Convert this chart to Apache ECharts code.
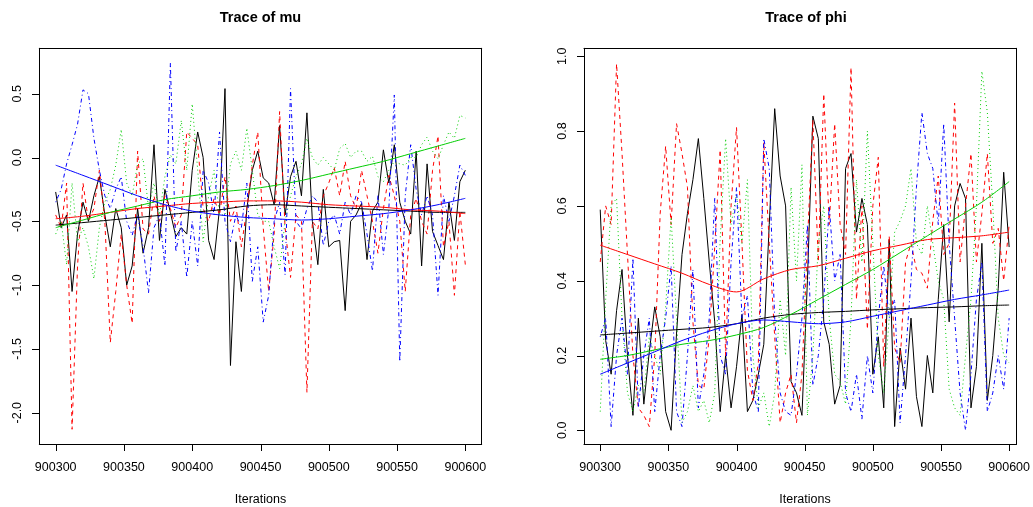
<!DOCTYPE html>
<html><head><meta charset="utf-8">
<script src="https://cdn.jsdelivr.net/npm/echarts@6/dist/echarts.min.js"></script>
<style>html,body{margin:0;padding:0;background:#fff}#c{width:1033px;height:507px}</style>
</head><body><div id="c"></div>
<script>
// ---------- data ----------
const iterations = []; for (let i = 0; i < 76; i++) iterations.push(900300 + 4 * i);
const smoothIters = []; for (let k = 0; k < 16; k++) smoothIters.push(900300 + 20 * k);
const xTicks = [900300, 900350, 900400, 900450, 900500, 900550, 900600];
const muTicks = [-2.0, -1.5, -1.0, -0.5, 0.0, 0.5];
const phiTicks = [0.0, 0.2, 0.4, 0.6, 0.8, 1.0];

const muBlack = [-0.27,-0.55,-0.45,-1.05,-0.6,-0.35,-0.5,-0.3,-0.15,-0.45,-0.7,-0.4,-0.55,-1.0,-0.85,-0.4,-0.75,-0.55,0.1,-0.65,-0.25,-0.43,-0.62,-0.55,-0.6,-0.1,0.2,0.0,-0.65,-0.8,-0.4,0.54,-1.63,-0.66,-1.05,-0.4,-0.1,0.05,-0.16,-0.2,-0.37,0.25,-0.45,-0.15,-0.03,-0.3,0.35,-0.5,-0.84,-0.25,-0.7,-0.66,-0.65,-1.2,-0.5,-0.45,-0.36,-0.8,-0.42,-0.35,0.06,-0.2,0.1,-0.35,-0.5,-0.6,0.05,-0.85,-0.05,-0.58,-0.69,-0.8,-0.35,-0.65,-0.19,-0.1];
const muRed = [-0.45,-0.55,-0.2,-2.13,-0.85,-0.2,-0.5,-0.4,-0.1,-0.5,-1.45,-1.05,-0.6,-1.0,-1.3,0.05,-0.56,-0.6,-0.3,-0.5,-0.3,-0.4,-0.55,-0.45,0.2,0.15,0.1,-0.4,-0.5,-0.32,-0.45,-0.15,-0.5,-0.38,-0.7,-0.4,-0.06,0.2,-0.55,-1.05,-0.6,0.36,-0.55,-0.94,-0.45,-0.5,-1.84,-0.5,-0.56,-0.3,-0.2,-0.08,-0.3,-0.03,-0.3,-0.4,-0.1,-0.3,-0.5,-0.75,-0.4,-0.14,-0.3,-0.5,-1.05,-0.45,-0.32,-0.5,-0.6,-0.1,0.17,-0.7,-0.5,-1.08,-0.42,-0.84];
const muGreen = [-0.6,-0.5,-0.84,-0.2,-0.66,-0.55,-0.7,-0.95,-0.55,-0.35,-0.25,-0.06,0.22,-0.2,-0.3,-0.05,-0.01,-0.4,-0.2,-0.45,-0.15,0.02,-0.05,0.29,-0.1,0.42,-0.1,-0.66,-0.3,-0.1,-0.45,-0.45,-0.05,0.05,-0.1,0.23,-0.1,-0.45,-0.5,-0.5,-0.7,-0.87,-0.5,-0.3,-0.15,-0.05,0.15,0.0,-0.06,0.0,-0.05,-0.1,0.07,0.11,0.0,0.05,0.05,-0.03,0.01,-0.15,-0.19,-0.1,-0.03,-0.05,-0.06,0.0,0.0,0.1,0.16,0.05,-0.01,0.1,0.2,0.15,0.33,0.31];
const muBlue = [-0.35,-0.25,-0.05,0.1,0.26,0.53,0.5,0.15,-0.1,-0.3,-0.4,-0.25,-0.15,-0.5,-0.61,-0.45,-0.7,-1.06,-0.55,-0.45,-0.85,0.74,-0.74,-0.5,-0.94,-0.5,-0.85,-0.1,-0.2,-0.45,0.2,-0.5,-0.66,-0.45,-0.55,-0.2,-0.97,-0.7,-1.29,-1.08,-0.5,-0.35,-0.92,0.54,-0.5,-0.56,-0.4,-0.3,-0.35,-0.69,-0.5,-0.45,-0.6,-0.35,-0.45,-0.3,-0.35,-0.6,-0.89,-0.3,-0.76,-0.4,0.49,-1.6,-0.3,0.1,-0.25,-0.45,-0.3,-0.45,-1.08,-0.3,-0.5,-0.3,-0.06,-0.14];

const muSmoothBlack = [-0.53,-0.51,-0.49,-0.47,-0.45,-0.43,-0.41,-0.38,-0.37,-0.38,-0.39,-0.40,-0.41,-0.42,-0.43,-0.43];
const muSmoothRed = [-0.48,-0.46,-0.43,-0.40,-0.38,-0.36,-0.35,-0.34,-0.34,-0.35,-0.37,-0.38,-0.39,-0.41,-0.42,-0.44];
const muSmoothGreen = [-0.55,-0.49,-0.43,-0.38,-0.33,-0.30,-0.27,-0.25,-0.22,-0.18,-0.13,-0.08,-0.03,0.03,0.09,0.15];
const muSmoothBlue = [-0.06,-0.14,-0.22,-0.30,-0.37,-0.42,-0.45,-0.47,-0.48,-0.49,-0.48,-0.46,-0.44,-0.41,-0.37,-0.32];

const phiBlack = [0.59,0.24,0.15,0.32,0.43,0.2,0.04,0.3,0.07,0.21,0.33,0.25,0.05,0.0,0.26,0.47,0.58,0.67,0.78,0.62,0.45,0.29,0.05,0.2,0.06,0.17,0.31,0.05,0.08,0.15,0.23,0.55,0.86,0.68,0.6,0.13,0.1,0.04,0.4,0.84,0.78,0.29,0.23,0.07,0.12,0.7,0.74,0.53,0.62,0.55,0.15,0.25,0.06,0.51,0.01,0.22,0.11,0.3,0.09,0.01,0.2,0.1,0.35,0.55,0.29,0.6,0.66,0.62,0.06,0.17,0.5,0.08,0.2,0.38,0.69,0.49];
const phiRed = [0.45,0.6,0.55,0.98,0.74,0.47,0.2,0.06,0.04,0.01,0.2,0.58,0.76,0.55,0.82,0.74,0.65,0.29,0.12,0.11,0.25,0.49,0.75,0.2,0.6,0.81,0.5,0.16,0.08,0.18,0.77,0.5,0.25,0.02,0.1,0.15,0.02,0.15,0.5,0.83,0.45,0.9,0.55,0.82,0.55,0.47,0.97,0.35,0.6,0.27,0.6,0.73,0.17,0.52,0.22,0.18,0.45,0.5,0.43,0.42,0.38,0.56,0.68,0.47,0.5,0.875,0.45,0.6,0.74,0.45,0.58,0.74,0.5,0.54,0.4,0.55];
const phiGreen = [0.05,0.35,0.6,0.62,0.3,0.1,0.05,0.12,0.1,0.25,0.2,0.15,0.33,0.57,0.3,0.02,0.05,0.12,0.05,0.08,0.02,0.1,0.51,0.78,0.55,0.63,0.5,0.67,0.2,0.06,0.1,0.01,0.1,0.35,0.2,0.65,0.4,0.71,0.04,0.2,0.5,0.6,0.3,0.15,0.13,0.07,0.3,0.67,0.45,0.8,0.5,0.2,0.1,0.3,0.53,0.56,0.6,0.7,0.5,0.47,0.6,0.5,0.4,0.35,0.11,0.06,0.04,0.2,0.35,0.6,0.96,0.85,0.6,0.3,0.2,0.18];
const phiBlue = [0.25,0.3,0.01,0.2,0.3,0.15,0.46,0.06,0.2,0.3,0.05,0.2,0.3,0.44,0.05,0.01,0.2,0.43,0.06,0.15,0.3,0.62,0.2,0.15,0.45,0.65,0.3,0.36,0.1,0.05,0.78,0.7,0.3,0.1,0.05,0.04,0.15,0.3,0.55,0.12,0.2,0.35,0.6,0.4,0.47,0.1,0.05,0.15,0.03,0.2,0.1,0.3,0.44,0.3,0.35,0.02,0.2,0.4,0.65,0.85,0.74,0.7,0.55,0.82,0.5,0.3,0.1,0.0,0.15,0.35,0.45,0.05,0.1,0.2,0.11,0.3];

const phiSmoothBlack = [0.255,0.26,0.265,0.27,0.275,0.285,0.30,0.31,0.315,0.318,0.322,0.325,0.328,0.33,0.333,0.335];
const phiSmoothRed = [0.495,0.47,0.445,0.42,0.39,0.37,0.405,0.43,0.44,0.46,0.48,0.495,0.51,0.515,0.52,0.53];
const phiSmoothGreen = [0.19,0.20,0.215,0.23,0.24,0.255,0.275,0.31,0.35,0.39,0.43,0.475,0.52,0.565,0.61,0.665];
const phiSmoothBlue = [0.15,0.18,0.21,0.24,0.265,0.285,0.295,0.29,0.285,0.29,0.305,0.32,0.335,0.35,0.362,0.375];

// ---------- chart ----------
const FONT = '"Liberation Sans", Arial, Helvetica, sans-serif';
const chainStyles = [
  { color: '#000000', type: 'solid' },
  { color: '#FF0000', type: [4, 4] },
  { color: '#00CD00', type: [1, 3] },
  { color: '#0000FF', type: [1, 3, 4, 3] }
];
const panels = [
  { xMin: 900288, xMax: 900612, yMin: -2.2476, yMax: 0.8558, yTicks: muTicks },
  { xMin: 900288.1, xMax: 900605.4, yMin: -0.0374, yMax: 1.0214, yTicks: phiTicks }
];
function pairs(xs, ys) { return ys.map((y, i) => [xs[i], y]); }

function xAxisFor(grid, min, max) {
  return {
    gridIndex: grid, type: 'value', min: min, max: max,
    axisLine: { show: true, onZero: false, lineStyle: { color: '#000' } }, splitLine: { show: false },
    axisTick: { show: false },
    axisLabel: { customValues: xTicks, formatter: v => String(Math.round(v)), margin: 17, fontSize: 12.5, color: '#000', fontFamily: FONT }
  };
}
function yAxisFor(grid, min, max, ticks) {
  return {
    gridIndex: grid, type: 'value', min: min, max: max,
    axisLine: { show: true, onZero: false, lineStyle: { color: '#000' } }, splitLine: { show: false },
    axisTick: { show: false },
    axisLabel: { customValues: ticks, rotate: 90, formatter: v => v.toFixed(1), margin: 15, fontSize: 12.5, color: '#000', fontFamily: FONT }
  };
}
function frameAxis(grid, min, max, pos) {
  return {
    gridIndex: grid, type: 'value', min: min, max: max, position: pos,
    axisLine: { show: true, onZero: false, lineStyle: { color: '#000' } },
    axisTick: { show: false }, axisLabel: { show: false }, splitLine: { show: false }
  };
}

const series = [];
function addPanel(axisIdx, chains, smooths) {
  chains.forEach((vals, c) => {
    series.push({
      type: 'line', xAxisIndex: axisIdx, yAxisIndex: axisIdx, data: pairs(iterations, vals),
      showSymbol: false, symbol: 'none', animation: false, clip: true,
      lineStyle: { color: chainStyles[c].color, type: chainStyles[c].type, width: 1 }
    });
  });
  smooths.forEach((vals, c) => {
    series.push({
      type: 'line', xAxisIndex: axisIdx, yAxisIndex: axisIdx, data: pairs(smoothIters, vals),
      showSymbol: false, symbol: 'none', animation: false, smooth: 0.3, clip: true,
      lineStyle: { color: chainStyles[c].color, type: 'solid', width: 1 }
    });
  });
}
addPanel(0, [muBlack, muRed, muGreen, muBlue], [muSmoothBlack, muSmoothRed, muSmoothGreen, muSmoothBlue]);
addPanel(1, [phiBlack, phiRed, phiGreen, phiBlue], [phiSmoothBlack, phiSmoothRed, phiSmoothGreen, phiSmoothBlue]);

function label(text, x, y, size, weight) {
  return { type: 'text', x: x, y: y, silent: true,
    style: { text: text, fill: '#000', font: weight + ' ' + size + 'px ' + FONT,
      align: 'center', verticalAlign: 'middle', textAlign: 'center', textVerticalAlign: 'middle' } };
}
const textGraphics = [
  label('Trace of mu', 260.5, 18, 14.5, 'bold'),
  label('Trace of phi', 806, 18, 14.5, 'bold'),
  label('Iterations', 260.5, 500, 12.5, 'normal'),
  label('Iterations', 805, 500, 12.5, 'normal')
];

const chart = echarts.init(document.getElementById('c'), null, { renderer: 'canvas' });
chart.setOption({
  animation: false,
  grid: [
    { left: 39.3, top: 48.3, width: 442.4, height: 396 },
    { left: 584, top: 48.3, width: 433.7, height: 396 }
  ],
  xAxis: [
    xAxisFor(0, panels[0].xMin, panels[0].xMax), xAxisFor(1, panels[1].xMin, panels[1].xMax),
    frameAxis(0, panels[0].xMin, panels[0].xMax, 'top'), frameAxis(1, panels[1].xMin, panels[1].xMax, 'top')
  ],
  yAxis: [
    yAxisFor(0, panels[0].yMin, panels[0].yMax, muTicks), yAxisFor(1, panels[1].yMin, panels[1].yMax, phiTicks),
    frameAxis(0, panels[0].yMin, panels[0].yMax, 'right'), frameAxis(1, panels[1].yMin, panels[1].yMax, 'right')
  ],
  series: series,
  graphic: textGraphics
});

// outward tick marks, positioned through the chart's own axis scales
const tickGraphics = [];
panels.forEach((p, idx) => {
  const finder = { xAxisIndex: idx, yAxisIndex: idx };
  xTicks.forEach(v => {
    const pt = chart.convertToPixel(finder, [v, p.yMin]);
    if (!pt) return;
    const x = Math.round(pt[0]) + 0.5, y = Math.round(pt[1]);
    tickGraphics.push({ type: 'line', silent: true, z: 100,
      shape: { x1: x, y1: y, x2: x, y2: y + 7 }, style: { stroke: '#000', lineWidth: 1 } });
  });
  p.yTicks.forEach(v => {
    const pt = chart.convertToPixel(finder, [p.xMin, v]);
    if (!pt) return;
    const x = Math.round(pt[0]), y = Math.round(pt[1]) + 0.5;
    tickGraphics.push({ type: 'line', silent: true, z: 100,
      shape: { x1: x - 7, y1: y, x2: x, y2: y }, style: { stroke: '#000', lineWidth: 1 } });
  });
});
chart.setOption({ graphic: textGraphics.concat(tickGraphics) });
</script></body></html>
